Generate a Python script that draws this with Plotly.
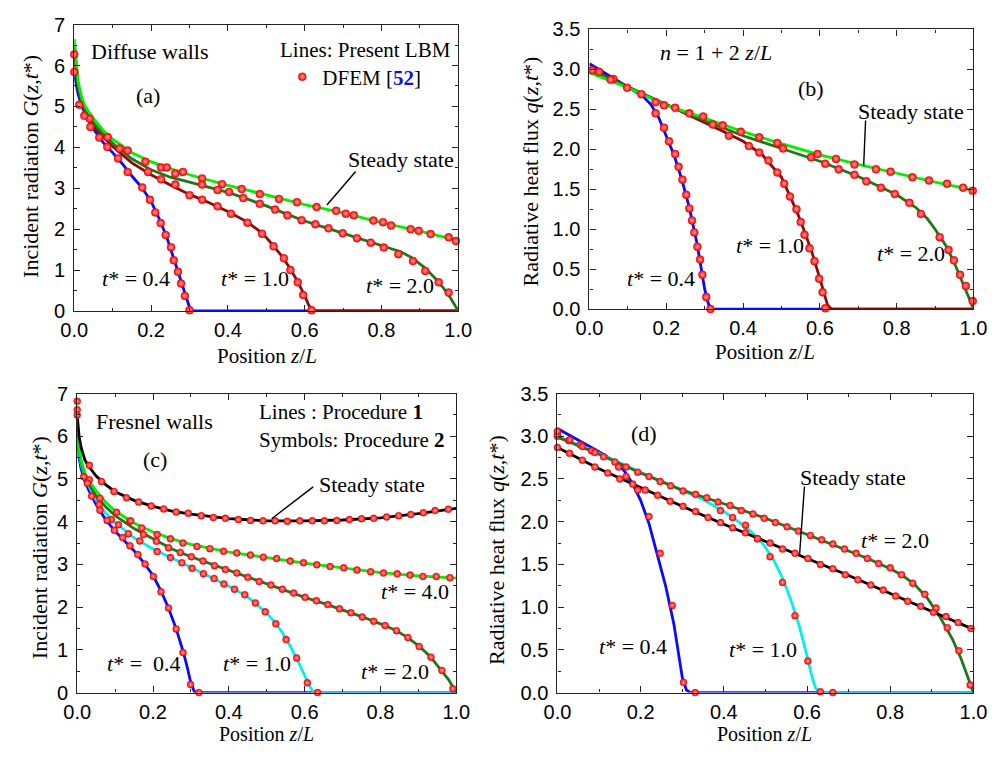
import plotly.graph_objects as go

W, H = 1004, 757

# ---------------- Panel (a): Diffuse walls, incident radiation ----------------
a_ss_z = [0, 0.005, 0.01, 0.02, 0.03, 0.05, 0.075, 0.1, 0.15, 0.2, 0.25, 0.3, 0.4, 0.5, 0.6, 0.7, 0.8, 0.9, 1.0]
a_ss_G = [6.65, 6.0, 5.6, 5.2, 4.98, 4.7, 4.42, 4.2, 3.87, 3.65, 3.48, 3.33, 3.07, 2.84, 2.60, 2.40, 2.16, 1.95, 1.72]
a_t2_z = [0, 0.005, 0.01, 0.02, 0.03, 0.05, 0.075, 0.1, 0.15, 0.2, 0.25, 0.3, 0.35, 0.4, 0.45, 0.5, 0.55, 0.6, 0.65, 0.7, 0.75, 0.8, 0.85, 0.88, 0.91, 0.94, 0.96, 0.98, 1.0]
a_t2_G = [6.5, 5.9, 5.5, 5.1, 4.88, 4.6, 4.33, 4.1, 3.72, 3.45, 3.27, 3.15, 3.03, 2.90, 2.74, 2.57, 2.38, 2.20, 2.05, 1.90, 1.74, 1.59, 1.45, 1.30, 1.08, 0.80, 0.58, 0.32, 0.0]
a_t1_z = [0, 0.005, 0.01, 0.02, 0.03, 0.05, 0.075, 0.1, 0.15, 0.2, 0.25, 0.3, 0.35, 0.4, 0.45, 0.48, 0.5, 0.52, 0.54, 0.56, 0.58, 0.6, 0.61, 0.62, 0.63, 1.0]
a_t1_G = [6.4, 5.8, 5.45, 5.05, 4.82, 4.52, 4.25, 4.02, 3.62, 3.33, 3.08, 2.85, 2.65, 2.43, 2.18, 1.97, 1.80, 1.57, 1.35, 1.07, 0.75, 0.38, 0.15, 0.02, 0.0, 0.0]
a_t04_z = [0, 0.005, 0.01, 0.02, 0.03, 0.05, 0.075, 0.1, 0.125, 0.15, 0.175, 0.2, 0.22, 0.24, 0.26, 0.28, 0.29, 0.3, 0.31, 1.0]
a_t04_G = [5.8, 5.5, 5.3, 5.0, 4.78, 4.45, 4.12, 3.87, 3.6, 3.3, 3.03, 2.68, 2.28, 1.83, 1.28, 0.68, 0.38, 0.1, 0.0, 0.0]

a_ss_mz = [0.0, 0.04, 0.087, 0.139, 0.185, 0.226, 0.241, 0.283, 0.333, 0.385, 0.436, 0.483, 0.533, 0.58, 0.631, 0.682, 0.707, 0.728, 0.779, 0.804, 0.825, 0.876, 0.897, 0.928, 0.975, 0.994]
a_ss_mG = [6.27, 4.70, 4.25, 3.92, 3.65, 3.51, 3.51, 3.40, 3.24, 3.10, 2.98, 2.86, 2.74, 2.66, 2.54, 2.45, 2.38, 2.34, 2.21, 2.17, 2.09, 2.00, 1.96, 1.88, 1.80, 1.71]
a_t2_mz = [0.118, 0.263, 0.333, 0.373, 0.403, 0.44, 0.483, 0.523, 0.555, 0.592, 0.628, 0.662, 0.699, 0.736, 0.772, 0.806, 0.844, 0.882, 0.914, 0.949, 0.975]
a_t2_mG = [3.97, 3.36, 3.09, 2.96, 2.91, 2.76, 2.62, 2.48, 2.34, 2.22, 2.12, 2.02, 1.90, 1.78, 1.67, 1.55, 1.39, 1.22, 0.98, 0.70, 0.45]
a_t1_mz = [0.026, 0.192, 0.226, 0.263, 0.30, 0.333, 0.373, 0.408, 0.451, 0.489, 0.519, 0.546, 0.563, 0.582, 0.596, 0.618]
a_t1_mG = [4.77, 3.40, 3.22, 3.09, 2.83, 2.72, 2.56, 2.38, 2.16, 1.89, 1.58, 1.29, 1.00, 0.70, 0.39, 0.02]
a_t04_mz = [0.0, 0.013, 0.042, 0.065, 0.086, 0.114, 0.139, 0.177, 0.197, 0.211, 0.225, 0.238, 0.252, 0.259, 0.27, 0.278, 0.288, 0.30]
a_t04_mG = [5.84, 5.04, 4.50, 4.24, 4.01, 3.73, 3.40, 3.02, 2.72, 2.41, 2.15, 1.86, 1.56, 1.24, 0.96, 0.67, 0.37, 0.02]

# ---------------- Panel (b): Diffuse walls, heat flux ----------------
b_ss_z = [0, 0.1, 0.2, 0.3, 0.4, 0.5, 0.6, 0.7, 0.8, 0.9, 1.0]
b_ss_q = [2.96, 2.77, 2.55, 2.39, 2.22, 2.07, 1.93, 1.81, 1.70, 1.59, 1.49]
b_t2_z = [0, 0.1, 0.2, 0.3, 0.4, 0.5, 0.6, 0.7, 0.75, 0.8, 0.85, 0.88, 0.9, 0.93, 0.95, 0.97, 0.99, 1.0]
b_t2_q = [3.0, 2.78, 2.56, 2.36, 2.17, 2.01, 1.85, 1.66, 1.55, 1.43, 1.27, 1.13, 1.0, 0.78, 0.58, 0.36, 0.12, 0.0]
b_t1_z = [0, 0.1, 0.2, 0.3, 0.35, 0.4, 0.45, 0.5, 0.52, 0.54, 0.56, 0.58, 0.6, 0.61, 0.62, 0.63, 1.0]
b_t1_q = [3.02, 2.78, 2.56, 2.34, 2.22, 2.10, 1.93, 1.65, 1.43, 1.22, 0.97, 0.70, 0.38, 0.2, 0.05, 0.0, 0.0]
b_t04_z = [0, 0.05, 0.1, 0.14, 0.16, 0.18, 0.2, 0.22, 0.24, 0.26, 0.28, 0.29, 0.3, 0.31, 0.32, 1.0]
b_t04_q = [3.07, 2.93, 2.78, 2.66, 2.56, 2.40, 2.17, 1.93, 1.63, 1.27, 0.82, 0.55, 0.25, 0.06, 0.0, 0.0]

b_ss_mz = [0.007, 0.025, 0.062, 0.098, 0.135, 0.172, 0.194, 0.223, 0.26, 0.296, 0.347, 0.394, 0.442, 0.489, 0.594, 0.642, 0.69, 0.746, 0.784, 0.841, 0.884, 0.931, 0.973, 0.998]
b_ss_mq = [2.99, 2.97, 2.88, 2.77, 2.69, 2.59, 2.55, 2.52, 2.45, 2.41, 2.30, 2.22, 2.15, 2.08, 1.94, 1.88, 1.81, 1.75, 1.72, 1.65, 1.61, 1.57, 1.52, 1.48]
b_t2_mz = [0.055, 0.321, 0.363, 0.504, 0.577, 0.614, 0.649, 0.69, 0.721, 0.759, 0.795, 0.833, 0.863, 0.912, 0.935, 0.949, 0.965, 0.98, 0.998]
b_t2_mq = [2.87, 2.31, 2.17, 2.01, 1.90, 1.82, 1.75, 1.68, 1.60, 1.52, 1.44, 1.33, 1.19, 0.90, 0.74, 0.61, 0.43, 0.29, 0.10]
b_t1_mz = [0.415, 0.442, 0.466, 0.489, 0.507, 0.522, 0.539, 0.55, 0.56, 0.573, 0.586, 0.598, 0.607, 0.614]
b_t1_mq = [2.04, 1.96, 1.86, 1.71, 1.57, 1.41, 1.25, 1.09, 0.93, 0.76, 0.60, 0.38, 0.21, 0.01]
b_t04_mz = [0.172, 0.194, 0.207, 0.223, 0.232, 0.242, 0.252, 0.26, 0.267, 0.273, 0.281, 0.288, 0.294, 0.304, 0.315]
b_t04_mq = [2.45, 2.27, 2.10, 1.94, 1.78, 1.62, 1.43, 1.26, 1.11, 0.96, 0.78, 0.62, 0.43, 0.15, 0.0]

# ---------------- Panel (c): Fresnel walls, incident radiation ----------------
c_ss_z = [0, 0.005, 0.01, 0.02, 0.03, 0.05, 0.075, 0.1, 0.15, 0.2, 0.25, 0.3, 0.4, 0.5, 0.6, 0.7, 0.8, 0.9, 1.0]
c_ss_G = [6.5, 6.0, 5.75, 5.45, 5.3, 5.07, 4.87, 4.70, 4.50, 4.36, 4.25, 4.18, 4.07, 4.02, 4.02, 4.04, 4.09, 4.19, 4.31]
c_t4_z = [0, 0.005, 0.01, 0.02, 0.03, 0.05, 0.075, 0.1, 0.15, 0.2, 0.25, 0.3, 0.4, 0.5, 0.6, 0.7, 0.8, 0.9, 1.0]
c_t4_G = [6.2, 5.7, 5.45, 5.15, 4.98, 4.72, 4.46, 4.25, 3.97, 3.76, 3.60, 3.47, 3.29, 3.16, 3.03, 2.92, 2.81, 2.73, 2.68]
c_t2_z = [0, 0.005, 0.01, 0.02, 0.03, 0.05, 0.075, 0.1, 0.15, 0.2, 0.25, 0.3, 0.35, 0.4, 0.45, 0.5, 0.55, 0.6, 0.65, 0.7, 0.75, 0.8, 0.84, 0.87, 0.9, 0.93, 0.96, 0.98, 1.0]
c_t2_G = [6.15, 5.65, 5.4, 5.1, 4.9, 4.6, 4.35, 4.14, 3.84, 3.60, 3.36, 3.18, 3.02, 2.87, 2.70, 2.55, 2.39, 2.23, 2.09, 1.94, 1.78, 1.61, 1.46, 1.30, 1.10, 0.86, 0.54, 0.30, 0.0]
c_t1_z = [0, 0.005, 0.01, 0.02, 0.03, 0.05, 0.075, 0.1, 0.15, 0.2, 0.25, 0.3, 0.35, 0.4, 0.45, 0.5, 0.52, 0.54, 0.56, 0.58, 0.6, 0.61, 0.62, 0.63, 1.0]
c_t1_G = [6.1, 5.6, 5.35, 5.05, 4.85, 4.5, 4.2, 3.98, 3.62, 3.36, 3.15, 2.93, 2.72, 2.49, 2.24, 1.86, 1.66, 1.42, 1.12, 0.78, 0.40, 0.2, 0.05, 0.0, 0.0]
c_t04_z = [0, 0.005, 0.01, 0.02, 0.03, 0.05, 0.075, 0.1, 0.125, 0.15, 0.175, 0.2, 0.22, 0.24, 0.26, 0.28, 0.29, 0.3, 0.31, 1.0]
c_t04_G = [6.0, 5.5, 5.25, 4.95, 4.75, 4.40, 4.05, 3.78, 3.55, 3.32, 3.05, 2.74, 2.40, 2.00, 1.52, 0.95, 0.60, 0.22, 0.0, 0.0]

c_ss_mz = [0.0, 0.0, 0.0, 0.032, 0.064, 0.097, 0.13, 0.162, 0.195, 0.228, 0.261, 0.293, 0.327, 0.359, 0.391, 0.425, 0.457, 0.49, 0.522, 0.554, 0.587, 0.62, 0.652, 0.685, 0.718, 0.75, 0.782, 0.816, 0.848, 0.88, 0.913, 0.944, 0.979]
c_ss_mG = [6.82, 6.62, 6.5, 5.32, 4.94, 4.71, 4.56, 4.46, 4.37, 4.30, 4.23, 4.20, 4.14, 4.10, 4.08, 4.05, 4.03, 4.02, 4.02, 4.01, 4.02, 4.02, 4.02, 4.03, 4.05, 4.07, 4.08, 4.11, 4.14, 4.17, 4.21, 4.26, 4.29]
c_t4_mz = [0.032, 0.06, 0.104, 0.139, 0.17, 0.211, 0.246, 0.279, 0.316, 0.35, 0.386, 0.421, 0.457, 0.491, 0.526, 0.562, 0.597, 0.632, 0.667, 0.703, 0.738, 0.774, 0.808, 0.844, 0.878, 0.912, 0.947, 0.983]
c_t4_mG = [4.98, 4.55, 4.22, 4.01, 3.85, 3.70, 3.60, 3.50, 3.42, 3.37, 3.31, 3.27, 3.22, 3.17, 3.14, 3.08, 3.04, 2.99, 2.95, 2.92, 2.87, 2.83, 2.80, 2.78, 2.75, 2.72, 2.72, 2.69]
c_t2_mz = [0.141, 0.175, 0.209, 0.241, 0.272, 0.301, 0.332, 0.362, 0.391, 0.421, 0.45, 0.48, 0.511, 0.541, 0.571, 0.601, 0.631, 0.661, 0.692, 0.722, 0.752, 0.782, 0.812, 0.842, 0.872, 0.902, 0.933, 0.962, 0.991]
c_t2_mG = [4.02, 3.70, 3.54, 3.39, 3.28, 3.18, 3.08, 2.97, 2.88, 2.80, 2.70, 2.60, 2.52, 2.42, 2.33, 2.23, 2.15, 2.06, 1.96, 1.87, 1.77, 1.67, 1.57, 1.45, 1.29, 1.08, 0.83, 0.52, 0.09]
c_t1_mz = [0.027, 0.058, 0.09, 0.109, 0.135, 0.165, 0.211, 0.246, 0.276, 0.303, 0.333, 0.361, 0.387, 0.415, 0.442, 0.47, 0.496, 0.524, 0.551, 0.579, 0.607, 0.634]
c_t1_mG = [4.90, 4.40, 4.05, 3.93, 3.72, 3.55, 3.30, 3.16, 3.04, 2.91, 2.78, 2.67, 2.54, 2.42, 2.29, 2.10, 1.89, 1.61, 1.24, 0.81, 0.23, 0.0]
c_t04_mz = [0.017, 0.038, 0.06, 0.079, 0.098, 0.12, 0.139, 0.16, 0.179, 0.201, 0.221, 0.241, 0.261, 0.279, 0.299, 0.321]
c_t04_mG = [5.05, 4.60, 4.27, 4.03, 3.80, 3.63, 3.44, 3.23, 3.01, 2.72, 2.36, 1.98, 1.49, 0.94, 0.19, 0.0]

# ---------------- Panel (d): Fresnel walls, heat flux ----------------
d_ss_z = [0, 0.1, 0.2, 0.3, 0.4, 0.5, 0.6, 0.7, 0.8, 0.9, 1.0]
d_ss_q = [2.87, 2.62, 2.40, 2.18, 1.97, 1.77, 1.57, 1.37, 1.16, 0.95, 0.74]
d_t2_z = [0, 0.1, 0.2, 0.3, 0.4, 0.5, 0.6, 0.7, 0.75, 0.8, 0.83, 0.86, 0.89, 0.92, 0.95, 0.97, 0.99, 1.0]
d_t2_q = [2.99, 2.79, 2.57, 2.37, 2.21, 2.04, 1.85, 1.66, 1.56, 1.45, 1.37, 1.26, 1.10, 0.88, 0.62, 0.40, 0.14, 0.0]
d_t1_z = [0, 0.1, 0.2, 0.3, 0.35, 0.4, 0.45, 0.48, 0.5, 0.52, 0.54, 0.56, 0.58, 0.6, 0.61, 0.62, 0.63, 1.0]
d_t1_q = [3.0, 2.8, 2.58, 2.37, 2.26, 2.12, 1.95, 1.82, 1.70, 1.55, 1.35, 1.10, 0.80, 0.43, 0.22, 0.06, 0.0, 0.0]
d_t04_z = [0, 0.05, 0.1, 0.14, 0.16, 0.18, 0.2, 0.22, 0.24, 0.26, 0.28, 0.29, 0.3, 0.31, 0.32, 1.0]
d_t04_q = [3.09, 2.96, 2.82, 2.70, 2.60, 2.45, 2.25, 1.98, 1.63, 1.25, 0.80, 0.50, 0.18, 0.03, 0.0, 0.0]

d_ss_mz = [0.0, 0.029, 0.06, 0.09, 0.121, 0.15, 0.181, 0.211, 0.241, 0.271, 0.302, 0.332, 0.362, 0.392, 0.421, 0.452, 0.481, 0.511, 0.541, 0.571, 0.602, 0.632, 0.662, 0.692, 0.722, 0.753, 0.783, 0.813, 0.842, 0.873, 0.904, 0.934, 0.963, 0.994]
d_ss_mq = [2.87, 2.80, 2.72, 2.64, 2.57, 2.50, 2.44, 2.37, 2.31, 2.24, 2.18, 2.12, 2.05, 1.99, 1.93, 1.87, 1.80, 1.75, 1.68, 1.63, 1.57, 1.50, 1.45, 1.38, 1.32, 1.26, 1.20, 1.13, 1.07, 1.01, 0.94, 0.89, 0.82, 0.75]
d_t2_mz = [0.0, 0.027, 0.055, 0.082, 0.111, 0.138, 0.165, 0.193, 0.22, 0.247, 0.272, 0.302, 0.332, 0.359, 0.386, 0.415, 0.442, 0.47, 0.497, 0.524, 0.552, 0.579, 0.608, 0.635, 0.662, 0.69, 0.718, 0.745, 0.772, 0.8, 0.827, 0.854, 0.883, 0.91, 0.937, 0.965, 0.992]
d_t2_mq = [3.0, 2.95, 2.90, 2.83, 2.76, 2.70, 2.64, 2.58, 2.53, 2.47, 2.42, 2.36, 2.32, 2.28, 2.23, 2.19, 2.13, 2.09, 2.04, 1.99, 1.94, 1.89, 1.84, 1.79, 1.74, 1.68, 1.63, 1.57, 1.51, 1.46, 1.38, 1.28, 1.15, 0.99, 0.76, 0.49, 0.09]
d_t1_mz = [0.0, 0.03, 0.06, 0.09, 0.392, 0.421, 0.452, 0.481, 0.511, 0.541, 0.571, 0.602, 0.632, 0.662]
d_t1_mq = [3.02, 2.96, 2.88, 2.81, 2.13, 2.05, 1.96, 1.80, 1.59, 1.29, 0.90, 0.37, 0.01, 0.0]
d_t04_mz = [0.0, 0.147, 0.165, 0.193, 0.22, 0.247, 0.276, 0.303, 0.331]
d_t04_mq = [3.06, 2.64, 2.53, 2.37, 2.06, 1.63, 1.02, 0.12, 0.0]

# ---------------- Styling ----------------
LIME = "#00f000"
DGREEN = "#1a7a1a"
DRED = "#8b0b0b"
BLUE = "#0a0aff"
CYAN = "#00f0f0"
BLACK = "#000000"
SERIF = "Liberation Serif"
SANS = "Liberation Sans"

# panel pixel boxes (left, top, right, bottom)
boxes = {
    "a": (62, 14, 457, 309),
    "b": (592, 19, 987, 307),
    "c": (65, 394, 455, 702),
    "d": (559, 394, 987, 702),
}
axis_ids = {"a": ("x", "y"), "b": ("x2", "y2"), "c": ("x3", "y3"), "d": ("x4", "y4")}

fig = go.Figure()


def add_line(p, z, v, color):
    xa, ya = axis_ids[p]
    fig.add_trace(go.Scatter(x=z, y=v, mode="lines", xaxis=xa, yaxis=ya,
                             line=dict(color=color, width=2.8), showlegend=False,
                             hoverinfo="skip"))


def add_marks(p, z, v, size=8, name=None, legend=False):
    xa, ya = axis_ids[p]
    fig.add_trace(go.Scatter(x=z, y=v, mode="markers", xaxis=xa, yaxis=ya,
                             name=name, showlegend=legend,
                             marker=dict(size=size, color="#f40000",
                                         gradient=dict(type="radial", color="#ffa0a0"),
                                         line=dict(color="#e00000", width=0.4)),
                             cliponaxis=False))


# panel a
add_line("a", a_t04_z, a_t04_G, BLUE)
add_line("a", a_t1_z, a_t1_G, DRED)
add_line("a", a_t2_z, a_t2_G, DGREEN)
add_line("a", a_ss_z, a_ss_G, LIME)
add_marks("a", a_ss_mz, a_ss_mG, name="DFEM [<b><span style='color:#1010e0'>52</span></b>]", legend=True)
add_marks("a", a_t2_mz, a_t2_mG)
add_marks("a", a_t1_mz, a_t1_mG)
add_marks("a", a_t04_mz, a_t04_mG)

# panel b
add_line("b", b_t04_z, b_t04_q, BLUE)
add_line("b", b_t1_z, b_t1_q, DRED)
add_line("b", b_t2_z, b_t2_q, DGREEN)
add_line("b", b_ss_z, b_ss_q, LIME)
add_marks("b", b_ss_mz, b_ss_mq)
add_marks("b", b_t2_mz, b_t2_mq)
add_marks("b", b_t1_mz, b_t1_mq)
add_marks("b", b_t04_mz, b_t04_mq)

# panel c
add_line("c", c_t04_z, c_t04_G, BLUE)
add_line("c", c_t1_z, c_t1_G, CYAN)
add_line("c", c_t2_z, c_t2_G, DGREEN)
add_line("c", c_t4_z, c_t4_G, LIME)
add_line("c", c_ss_z, c_ss_G, BLACK)
for mz, mv in [(c_ss_mz, c_ss_mG), (c_t4_mz, c_t4_mG), (c_t2_mz, c_t2_mG), (c_t1_mz, c_t1_mG), (c_t04_mz, c_t04_mG)]:
    add_marks("c", mz, mv, size=7)

# panel d
add_line("d", d_t04_z, d_t04_q, BLUE)
add_line("d", d_t1_z, d_t1_q, CYAN)
add_line("d", d_t2_z, d_t2_q, DGREEN)
add_line("d", d_ss_z, d_ss_q, BLACK)
for mz, mv in [(d_ss_mz, d_ss_mq), (d_t2_mz, d_t2_mq), (d_t1_mz, d_t1_mq), (d_t04_mz, d_t04_mq)]:
    add_marks("d", mz, mv, size=7)

# ---------------- Axes ----------------
tickfont = dict(family=SANS, size=20, color="black")
yranges = {"a": (0, 7, 1, 0.5, None), "b": (0, 3.5, 0.5, 0.25, ".1f"),
           "c": (0, 7, 1, 0.5, None), "d": (0, 3.5, 0.5, 0.25, ".1f")}
layout_axes = {}
for p, (l, t, r, b) in boxes.items():
    xa, ya = axis_ids[p]
    xkey = "xaxis" + xa[1:]
    ykey = "yaxis" + ya[1:]
    y0, y1, dt, mdt, fmt = yranges[p]
    common = dict(showline=True, linecolor="#222", linewidth=1.2, mirror="allticks",
                  ticks="inside", ticklen=6, tickwidth=1, tickcolor="#222",
                  showgrid=False, zeroline=False, tickfont=tickfont)
    layout_axes[xkey] = dict(common, domain=[l / W, r / W], range=[0, 1], dtick=0.2, tick0=0,
                             tickformat=".1f", anchor=ya, ticklabelstandoff=1,
                             minor=dict(ticks="inside", dtick=0.1, ticklen=3, tickcolor="#222", showgrid=False))
    ykw = dict(common, domain=[1 - b / H, 1 - t / H], range=[y0, y1], dtick=dt, tick0=0, anchor=xa,
               ticklabelstandoff=4,
               minor=dict(ticks="inside", dtick=mdt, ticklen=3, tickcolor="#222", showgrid=False))
    if fmt:
        ykw["tickformat"] = fmt
    layout_axes[ykey] = ykw

fig.update_layout(**layout_axes)

# ---------------- Annotations ----------------
anns = []


def txt(px, py, text, size=22, xanchor="center"):
    anns.append(dict(x=px / W, y=1 - py / H, xref="paper", yref="paper", text=text,
                     showarrow=False, xanchor=xanchor, yanchor="middle",
                     font=dict(family=SERIF, size=size, color="black")))


def rot(px, py, text):
    anns.append(dict(x=px / W, y=1 - py / H, xref="paper", yref="paper", text=text,
                     showarrow=False, textangle=-90, xanchor="center", yanchor="middle",
                     font=dict(family=SERIF, size=22, color="black")))


def arrow(p, zx, vy, ax, ay):
    xa, ya = axis_ids[p]
    anns.append(dict(x=zx, y=vy, xref=xa, yref=ya, ax=ax, ay=ay, axref="pixel", ayref="pixel",
                     text="", showarrow=True, arrowhead=0, arrowwidth=1.4, arrowcolor="black"))


T = "<i>t</i>* = "
YG = "Incident radiation <i>G</i>(<i>z</i>,<i>t</i>*)"
YQ = "Radiative heat flux <i>q</i>(<i>z</i>,<i>t</i>*)"
XP = "Position <i>z</i>/<i>L</i>"

# panel a
rot(17, 160, YG)
txt(260, 355, XP, size=21)
txt(140, 42, "Diffuse walls")
txt(362, 40, "Lines: Present LBM", size=21)
txt(138, 87, "(a)")
txt(398, 153, "Steady state")
txt(126, 276, T + "0.4")
txt(248, 276, T + "1.0")
txt(397, 283, T + "2.0")
arrow("a", 0.658, 2.59, 30, -35)

# panel b
rot(531, 165, YQ)
txt(773, 351, XP, size=21)
txt(722, 43, "<i>n</i> = 1 + 2 <i>z</i>/<i>L</i>")
txt(820, 80, "(b)")
txt(923, 103, "Steady state")
txt(666, 275, T + "0.4")
txt(778, 242, T + "1.0")
txt(923, 250, T + "2.0")
arrow("b", 0.714, 1.79, 2, -47)

# panel c
rot(27, 553, YG)
txt(260, 745, XP, size=20)
txt(145, 423, "Fresnel walls")
txt(250, 413, "Lines : Procedure <b>1</b>", xanchor="left", size=21)
txt(250, 442, "Symbols: Procedure <b>2</b>", xanchor="left", size=21)
txt(145, 462, "(c)")
txt(368, 488, "Steady state")
txt(134, 672, T + " 0.4")
txt(250, 672, T + "1.0")
txt(392, 680, T + "2.0")
txt(413, 598, T + "4.0")
arrow("c", 0.513, 4.07, 43, -33)

# panel d
rot(497, 555, YQ)
txt(772, 745, XP, size=20)
txt(648, 435, "(d)")
txt(863, 480, "Steady state")
txt(906, 545, T + "2.0")
txt(637, 655, T + "0.4")
txt(770, 658, T + "1.0")
arrow("d", 0.582, 1.61, 5, -70)

fig.update_layout(
    width=W, height=H, margin=dict(l=0, r=0, t=0, b=0),
    paper_bgcolor="white", plot_bgcolor="white",
    annotations=anns,
    showlegend=True,
    legend=dict(x=276 / W, y=1 - 68 / H, xanchor="left", yanchor="middle",
                bgcolor="rgba(0,0,0,0)", font=dict(family=SERIF, size=21, color="black"),
                itemwidth=30, tracegroupgap=0),
)

fig.write_html("out.html")
